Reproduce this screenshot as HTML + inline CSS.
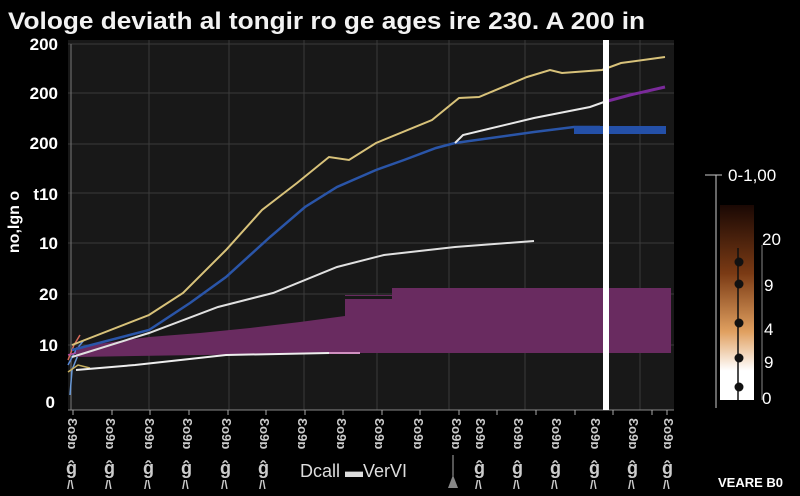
<!DOCTYPE html>
<html><head><style>body{margin:0;background:#000;}svg{display:block;font-family:"Liberation Sans",sans-serif;}</style></head>
<body>
<svg width="800" height="496" viewBox="0 0 800 496">
<rect width="800" height="496" fill="#000"/>
<text x="8" y="29" fill="#f2f2f2" font-size="24" font-weight="bold" textLength="637" lengthAdjust="spacingAndGlyphs">Vologe deviath al tongir ro ge ages ire 230. A 200 in</text>
<rect x="68" y="40" width="606" height="370" fill="#181818"/>
<g stroke="#3a3a3a" stroke-width="1">
<line x1="68" y1="44" x2="674" y2="44"/><line x1="68" y1="93" x2="674" y2="93"/><line x1="68" y1="144" x2="674" y2="144"/><line x1="68" y1="193" x2="674" y2="193"/><line x1="68" y1="243" x2="674" y2="243"/><line x1="68" y1="294" x2="674" y2="294"/><line x1="68" y1="345" x2="674" y2="345"/>
<line x1="149" y1="40" x2="149" y2="410"/><line x1="229" y1="40" x2="229" y2="410"/><line x1="304" y1="40" x2="304" y2="410"/><line x1="377" y1="40" x2="377" y2="410"/><line x1="449" y1="40" x2="449" y2="410"/><line x1="525" y1="40" x2="525" y2="410"/><line x1="640" y1="40" x2="640" y2="410"/>
</g>
<line x1="71" y1="44" x2="71" y2="410" stroke="#777"/>
<line x1="68" y1="410" x2="674" y2="410" stroke="#888"/>
<g stroke="#aaa"><line x1="73" y1="410" x2="73" y2="415"/><line x1="112" y1="410" x2="112" y2="415"/><line x1="150" y1="410" x2="150" y2="415"/><line x1="189" y1="410" x2="189" y2="415"/><line x1="228" y1="410" x2="228" y2="415"/><line x1="266" y1="410" x2="266" y2="415"/><line x1="305" y1="410" x2="305" y2="415"/><line x1="343" y1="410" x2="343" y2="415"/><line x1="382" y1="410" x2="382" y2="415"/><line x1="420" y1="410" x2="420" y2="415"/><line x1="459" y1="410" x2="459" y2="415"/><line x1="497" y1="410" x2="497" y2="415"/><line x1="536" y1="410" x2="536" y2="415"/><line x1="575" y1="410" x2="575" y2="415"/><line x1="613" y1="410" x2="613" y2="415"/><line x1="652" y1="410" x2="652" y2="415"/><line x1="667" y1="410" x2="667" y2="415"/></g>
<g fill="#fff" font-size="17" font-weight="bold" text-anchor="end">
<text x="58" y="50">200</text><text x="58" y="99">200</text><text x="58" y="149">200</text><text x="58" y="200">t10</text><text x="58" y="249">10</text><text x="58" y="300">20</text><text x="58" y="351">10</text><text x="55" y="408">0</text>
</g>
<text transform="translate(19,222) rotate(-90)" fill="#fff" font-size="16" font-weight="bold" text-anchor="middle">no,lgn o</text>
<g stroke-width="1.5" fill="none">
<polyline points="68,360 74,345 80,335" stroke="#d86a5a"/><polyline points="68,365 76,350 84,340" stroke="#5a8ad8"/><polyline points="70,395 72,370 80,350" stroke="#6a9ad8"/><polyline points="68,372 78,365 90,368" stroke="#c8b060"/><polyline points="68,355 80,352 95,348" stroke="#b04aa0"/>
</g>
<polygon points="76,347 149,337 200,333 250,328 300,322 345,316 345,295 392,295 392,288 671,288 671,353 360,353 200,355 76,357" fill="#692b60"/>
<rect x="330" y="296" width="62" height="3" fill="#181818"/>
<polyline points="76,370 135,365 226,355 329,353" fill="none" stroke="#eee" stroke-width="2"/>
<line x1="329" y1="353" x2="360" y2="353" stroke="#d090c0" stroke-width="2"/>
<polyline points="72,357 149,333 218,307 273,293 337,267 384,255 455,247 534,241" fill="none" stroke="#e0e0e0" stroke-width="2"/>
<polyline points="72,350 149,330 190,303 226,277 270,237 305,207 337,187 376,170 404,160 436,148 455,143 534,132 574,127 600,127" fill="none" stroke="#2a55a8" stroke-width="2.5"/>
<rect x="574" y="126" width="92" height="8" fill="#2450a8"/>
<polyline points="455,143 463,135 534,118 590,107 604,102" fill="none" stroke="#e8e8e8" stroke-width="2"/>
<polyline points="604,102 630,95 665,87" fill="none" stroke="#7a2a9a" stroke-width="3"/>
<polyline points="72,345 149,315 183,293 226,250 262,210 297,183 329,157 349,160 376,143 432,120 459,98 479,97 527,77 550,70 562,73 602,70 621,63 665,57" fill="none" stroke="#d8c27a" stroke-width="2"/>
<rect x="603" y="40" width="6" height="370" fill="#fff"/>
<g fill="#ccc" font-size="13" font-weight="bold">
<g id="c"><text transform="translate(68,418) rotate(90)">Ɛo9ɒ</text><text x="66" y="474" font-size="18">ĝ</text><text x="67" y="489" font-size="12">/\</text></g>
<use href="#c" x="38"/><use href="#c" x="77"/><use href="#c" x="115"/><use href="#c" x="154"/><use href="#c" x="192"/>
<text transform="translate(298,418) rotate(90)">Ɛo9ɒ</text><text transform="translate(337,418) rotate(90)">Ɛo9ɒ</text><text transform="translate(375,418) rotate(90)">Ɛo9ɒ</text><text transform="translate(414,418) rotate(90)">Ɛo9ɒ</text><text transform="translate(452,418) rotate(90)">Ɛo9ɒ</text>
<use href="#c" x="408"/><use href="#c" x="446"/><use href="#c" x="484"/><use href="#c" x="523"/><use href="#c" x="561"/><use href="#c" x="596"/>
</g>
<text x="300" y="477" fill="#ddd" font-size="18">Dcall ▬VerVI</text>
<line x1="453" y1="455" x2="453" y2="483" stroke="#aaa"/>
<polygon points="448,488 458,488 453,475" fill="#888"/>
<text x="718" y="487" fill="#fff" font-size="13" font-weight="bold">VEARE B0</text>
<defs><linearGradient id="cb" x1="0" y1="0" x2="0" y2="1"><stop offset="0" stop-color="#1a0804"/><stop offset="0.35" stop-color="#7a3a14"/><stop offset="0.65" stop-color="#e0a060"/><stop offset="0.85" stop-color="#fff"/><stop offset="1" stop-color="#fff"/></linearGradient></defs>
<rect x="720" y="205" width="34" height="195" fill="url(#cb)"/>
<line x1="716" y1="175" x2="716" y2="408" stroke="#ccc"/>
<line x1="705" y1="175" x2="722" y2="175" stroke="#ccc"/>
<line x1="738" y1="248" x2="738" y2="400" stroke="#111" stroke-width="1.5"/>
<g fill="#111"><circle cx="739" cy="262" r="4.5"/><circle cx="739" cy="284" r="4.5"/><circle cx="739" cy="323" r="4.5"/><circle cx="739" cy="358" r="4.5"/><circle cx="739" cy="387" r="4.5"/></g>
<line x1="762" y1="245" x2="762" y2="400" stroke="#888"/>
<g fill="#fff" font-size="17"><text x="728" y="181">0-1,00</text><text x="762" y="245">20</text><text x="764" y="291">9</text><text x="764" y="335">4</text><text x="764" y="368">9</text><text x="762" y="404">0</text></g>
</svg>
</body></html>
